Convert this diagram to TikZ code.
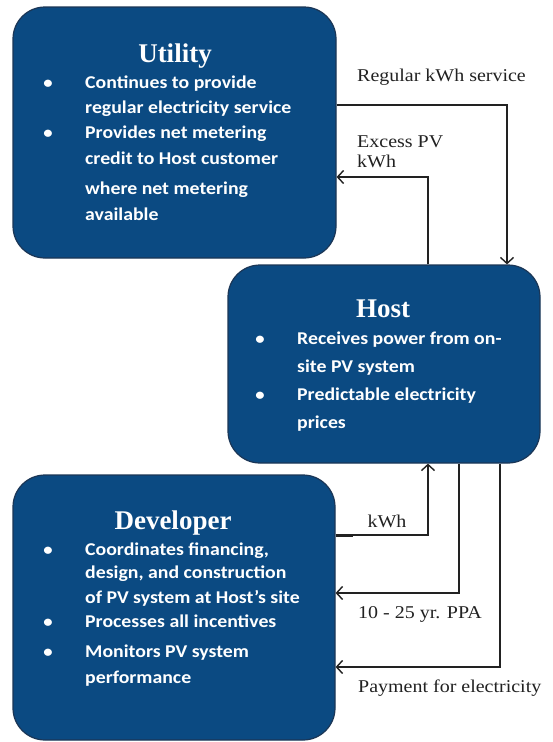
\documentclass[tikz,border=0pt]{standalone}
\usepackage{fontspec}
\setmainfont{Liberation Serif}
\newfontfamily\calfont[FakeStretch=1.1]{Carlito}
\newfontfamily\lblfont[FakeStretch=1.11]{Liberation Serif}
\usetikzlibrary{arrows.meta}
\definecolor{boxblue}{HTML}{0B4A82}
\definecolor{boxedge}{HTML}{1B3656}
\definecolor{ink}{HTML}{222222}
\begin{document}
\begin{tikzpicture}[x=1pt,y=-1pt,
  box/.style={draw=boxedge, line width=1.2pt, fill=boxblue, rounded corners=32pt, inner sep=0pt},
  ttl/.style={text=white, font=\fontsize{27}{30}\selectfont\bfseries, anchor=base, inner sep=0pt},
  itm/.style={text=white, font=\calfont\bfseries\fontsize{18}{20}\selectfont, anchor=base west, inner sep=0pt},
  bul/.style={text=white, font=\calfont\bfseries\fontsize{17}{20}\selectfont, anchor=base, inner sep=0pt},
  lbl/.style={text=ink, font=\lblfont\fontsize{18}{20}\selectfont, anchor=base west, inner sep=0pt},
  con/.style={line width=1.4pt, draw=ink},
  arr/.style={con, -{Straight Barb[length=6pt,width=13pt,line width=1.4pt]}}
]
\useasboundingbox (0,0) rectangle (552,742);
\fill[white] (0,0) rectangle (552,742);

% boxes
\node[box, minimum width=323pt, minimum height=251pt] (U) at (174.5,132.5) {};
\node[box, minimum width=312pt, minimum height=198pt] (H) at (384,364) {};
\node[box, minimum width=322pt, minimum height=265pt] (D) at (174,607.5) {};

% Utility text
\node[ttl] (ut) at (175,62) {Utility};
\node[bul] (ub1) at (48,88) {•};
\node[itm] (u1) at (85,88) {Continues to provide};
\node[itm] (u2) at (85,113) {regular electricity service};
\node[bul] (ub2) at (48,138) {•};
\node[itm] (u3) at (85,138) {Provides net metering};
\node[itm] (u4) at (85,164) {credit to Host customer};
\node[itm] (u5) at (85,194) {where net metering};
\node[itm] (u6) at (85,220) {available};

% Host text
\node[ttl] (ht) at (383,317) {Host};
\node[bul] (hb1) at (260,344) {•};
\node[itm] (h1) at (297,344) {Receives power from on-};
\node[itm] (h2) at (297,372) {site PV system};
\node[bul] (hb2) at (260,400) {•};
\node[itm] (h3) at (297,400) {Predictable electricity};
\node[itm] (h4) at (297,428) {prices};

% Developer text
\node[ttl] (dt) at (173,529) {Developer};
\node[bul] (db1) at (48,555) {•};
\node[itm] (d1) at (85,555) {Coordinates financing,};
\node[itm] (d2) at (85,578) {design, and construction};
\node[itm] (d3) at (85,603) {of PV system at Host’s site};
\node[bul] (db2) at (48,627) {•};
\node[itm] (d4) at (85,627) {Processes all incentives};
\node[bul] (db3) at (48,657) {•};
\node[itm] (d5) at (85,657) {Monitors PV system};
\node[itm] (d6) at (85,683) {performance};

% connector turn points
\coordinate (r1) at (507,105);
\coordinate (e1) at (428,177);
\coordinate (k1) at (428,535);
\coordinate (p1) at (459,593);
\coordinate (m1) at (500,667);

\draw[arr] (U.east |- r1) -- (r1) -- (r1 |- H.north);
\draw[arr] (e1 |- H.north) -- (e1) -- (U.east |- e1);
\draw[arr] (D.east |- k1) -- (k1) -- (k1 |- H.south);
\draw[line width=3pt, draw=ink] (D.east |- k1) -- ++(17,0);
\draw[arr] (p1 |- H.south) -- (p1) -- (D.east |- p1);
\draw[arr] (m1 |- H.south) -- (m1) -- (D.east |- m1);

% labels
\node[lbl] (l1) at (357,81) {Regular kWh service};
\node[lbl] (l2) at (357,147) {Excess PV};
\node[lbl] (l3) at (357,167) {kWh};
\node[lbl, anchor=base] (l4) at (387,527) {kWh};
\node[lbl] (l5) at (358,618) {10 - 25 yr. PPA};
\node[lbl] (l6) at (358,692) {Payment for electricity};
\end{tikzpicture}
\end{document}
